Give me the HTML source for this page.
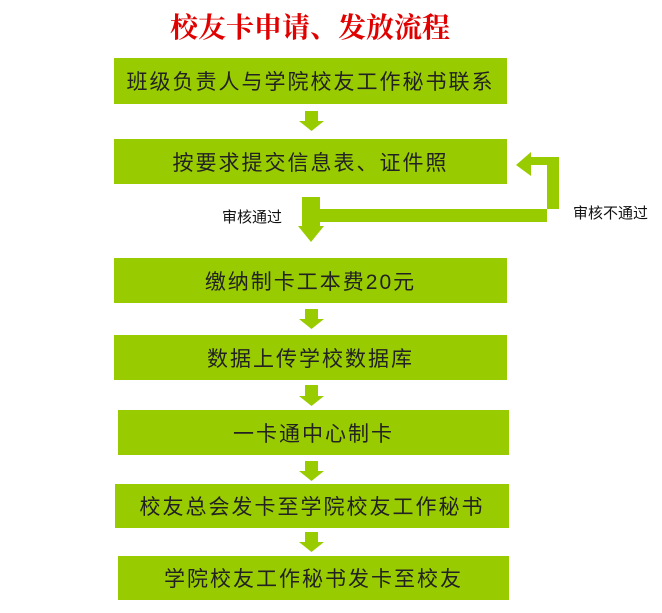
<!DOCTYPE html>
<html><head><meta charset="utf-8"><style>
body{margin:0;width:662px;height:613px;background:#fff;position:relative;overflow:hidden;font-family:"Liberation Sans","Noto Sans CJK SC",sans-serif}
.b{position:absolute;background:#99cc00;color:#222;font-size:21px;display:flex;align-items:center;justify-content:center;letter-spacing:2px}
.t{position:absolute;font-size:15px;color:#111}
</style></head><body>
<div style="position:absolute;left:0;width:620px;top:6px;text-align:center;color:#e00000;font-size:28px;font-family:'Liberation Serif','Noto Serif CJK SC',serif;font-weight:bold">校友卡申请、发放流程</div>
<div class="b" style="left:114px;top:58px;width:393px;height:46px">班级负责人与学院校友工作秘书联系</div>
<div class="b" style="left:114px;top:139px;width:393px;height:45px">按要求提交信息表、证件照</div>
<div class="b" style="left:114px;top:258px;width:393px;height:45px">缴纳制卡工本费20元</div>
<div class="b" style="left:114px;top:335px;width:393px;height:45px">数据上传学校数据库</div>
<div class="b" style="left:118px;top:410px;width:391px;height:45px">一卡通中心制卡</div>
<div class="b" style="left:115px;top:484px;width:394px;height:44px">校友总会发卡至学院校友工作秘书</div>
<div class="b" style="left:118px;top:556px;width:391px;height:44px">学院校友工作秘书发卡至校友</div>
<svg width="662" height="613" style="position:absolute;left:0;top:0">
<g fill="#99cc00">
<polygon points="305,111 318,111 318,121 324,121 311.5,131 299,121 305,121"/>
<polygon points="302,197 320,197 320,226 324,226 311,242 298,226 302,226"/>
<polygon points="318,209 559,209 559,157 531,157 531,152 516,165 531,176 531,165 547,165 547,222 318,222"/>
<polygon points="305,309 318,309 318,319 324,319 311.5,329 299,319 305,319"/>
<polygon points="305,385 318,385 318,396 324,396 311.5,406 299,396 305,396"/>
<polygon points="305,461 318,461 318,471 324,471 311.5,481 299,471 305,471"/>
<polygon points="305,532 318,532 318,542 324,542 311.5,552 299,542 305,542"/>
</g></svg>
<div class="t" style="left:222px;top:206px">审核通过</div>
<div class="t" style="left:573px;top:202px">审核不通过</div>
</body></html>
